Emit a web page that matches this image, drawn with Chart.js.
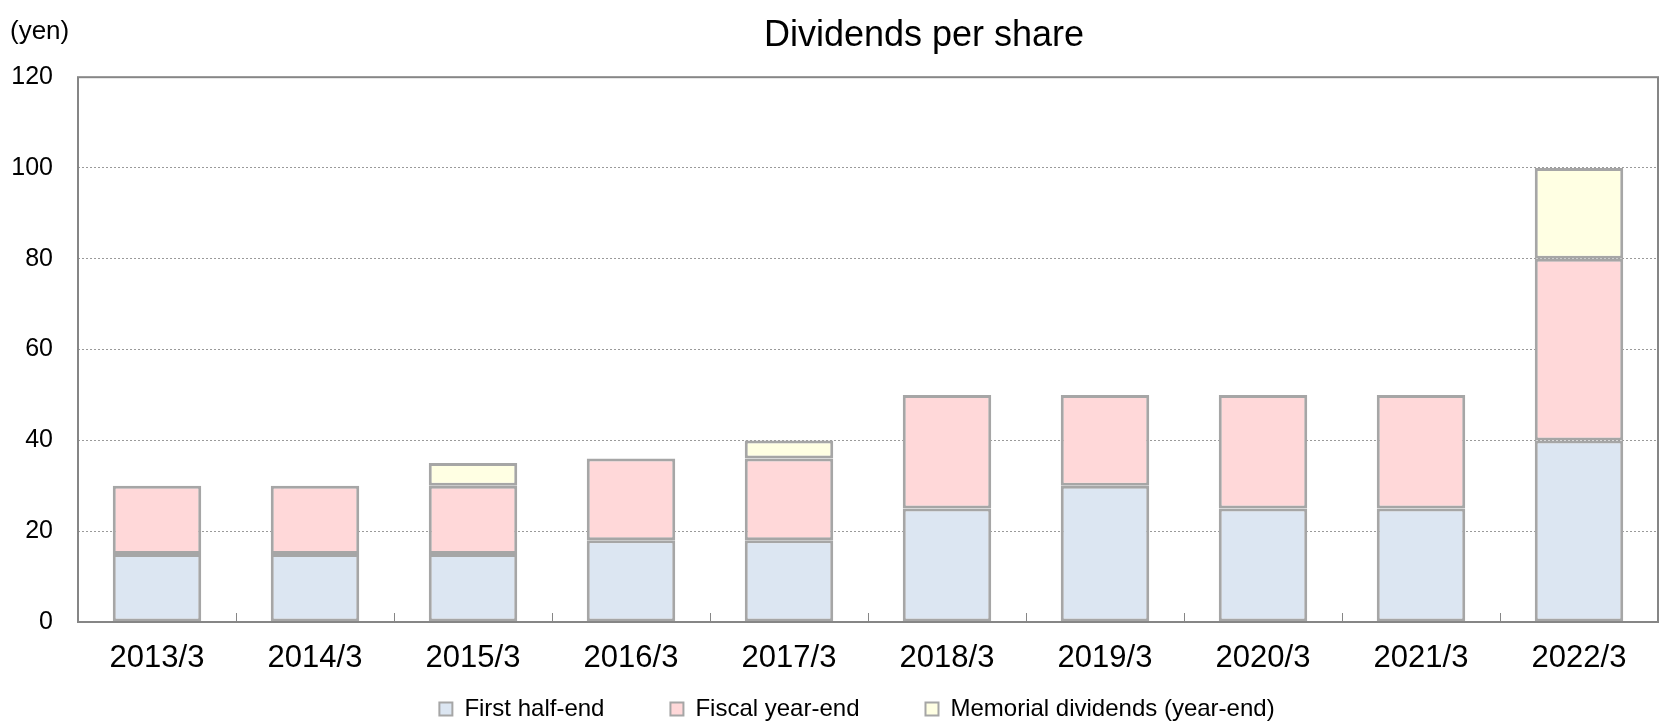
<!DOCTYPE html>
<html>
<head>
<meta charset="utf-8">
<script src="https://cdn.jsdelivr.net/npm/chart.js@4.4.1/dist/chart.umd.min.js"></script>
<style>
  html, body { margin: 0; padding: 0; background: #fff; }
  #wrap { width: 1661px; height: 726px; }
</style>
</head>
<body>
<div id="wrap"><canvas id="chart" width="1661" height="726"></canvas></div>
<script>
const years = ["2013/3", "2014/3", "2015/3", "2016/3", "2017/3", "2018/3", "2019/3", "2020/3", "2021/3", "2022/3"];
const firstHalf = [15, 15, 15, 18, 18, 25, 30, 25, 25, 40];
const fiscalEnd = [15, 15, 15, 18, 18, 25, 20, 25, 25, 40];
const memorial = [0, 0, 5, 0, 4, 0, 0, 0, 0, 20];

const FONT = "'Liberation Sans', Arial, sans-serif";
const edge = "#a6a6a6";
const LEGEND_PAD = 66;

// the legend uses its label padding both across and down; keep the box short
// so the plot gets the height, then move the title and legend into place
const placePlugin = {
  id: "place",
  beforeLayout(chart) {
    const lg = chart.legend;
    if (lg && !lg._short) {
      const fit = lg.fit.bind(lg);
      lg.fit = function () {
        fit();
        this.height = 30;
      };
      lg._short = true;
    }
  },
  afterLayout(chart) {
    const lg = chart.legend;
    lg.left += 28; lg.right += 28;
    lg.top = 631; lg.bottom = chart.height + LEGEND_PAD;
    const tb = chart.titleBlock;
    tb.left += 95; tb.right += 95;
  },
};

// plot frame, inward ticks between categories and the unit label
const framePlugin = {
  id: "frame",
  afterDatasetsDraw(chart) {
    const { ctx, chartArea: a, scales: { x } } = chart;
    ctx.save();
    ctx.strokeStyle = "#868686";
    ctx.lineWidth = 2;
    ctx.strokeRect(a.left, a.top, a.right - a.left, a.bottom - a.top);
    const step = (a.right - a.left) / years.length;
    ctx.lineWidth = 1;
    for (let i = 1; i < years.length; i++) {
      const px = Math.round(x.getPixelForValue(i) - step / 2) + 0.5;
      ctx.beginPath();
      ctx.moveTo(px, a.bottom);
      ctx.lineTo(px, a.bottom - 9);
      ctx.stroke();
    }
    ctx.fillStyle = "#000";
    ctx.font = "26px " + FONT;
    ctx.textBaseline = "middle";
    ctx.textAlign = "left";
    ctx.fillText("(yen)", 10, 32);
    ctx.restore();
  },
};

const ds = (label, data, color) => ({
  label, data,
  backgroundColor: color,
  borderColor: edge,
  borderWidth: 3,
  borderSkipped: false,
  categoryPercentage: 1,
  barPercentage: 0.56,
});

new Chart(document.getElementById("chart"), {
  type: "bar",
  data: {
    labels: years,
    datasets: [
      ds("First half-end", firstHalf, "#dce6f2"),
      ds("Fiscal year-end", fiscalEnd, "#ffd8d9"),
      ds("Memorial dividends (year-end)", memorial, "#ffffe3"),
    ],
  },
  options: {
    responsive: false,
    animation: false,
    devicePixelRatio: 1,
    layout: { padding: { left: 0, right: 3, top: 0, bottom: 4 } },
    plugins: {
      tooltip: { enabled: false },
      title: {
        display: true,
        text: "Dividends per share",
        color: "#000",
        font: { family: FONT, size: 36, weight: "normal" },
        padding: { top: 14, bottom: 20 },
      },
      legend: {
        position: "bottom",
        labels: {
          color: "#000",
          font: { family: FONT, size: 24 },
          boxWidth: 13,
          boxHeight: 13,
          padding: LEGEND_PAD,
          generateLabels(chart) {
            return chart.data.datasets.map((d, i) => ({
              text: d.label,
              fillStyle: d.backgroundColor,
              strokeStyle: edge,
              lineWidth: 2,
              datasetIndex: i,
            }));
          },
        },
      },
    },
    scales: {
      x: {
        stacked: true,
        grid: { display: false },
        border: { display: false },
        ticks: { color: "#000", font: { family: FONT, size: 31 }, padding: 10, maxRotation: 0 },
        afterFit(s) { s.height = 70; },
      },
      y: {
        stacked: true,
        min: 0,
        max: 120,
        grid: { color: "#9a9a9a", drawTicks: false },
        border: { display: false, dash: [2, 2] },
        ticks: { color: "#000", font: { family: FONT, size: 25 }, padding: 25, stepSize: 20 },
        afterFit(s) { s.width = 78; },
      },
    },
  },
  plugins: [placePlugin, framePlugin],
});
</script>
</body>
</html>
